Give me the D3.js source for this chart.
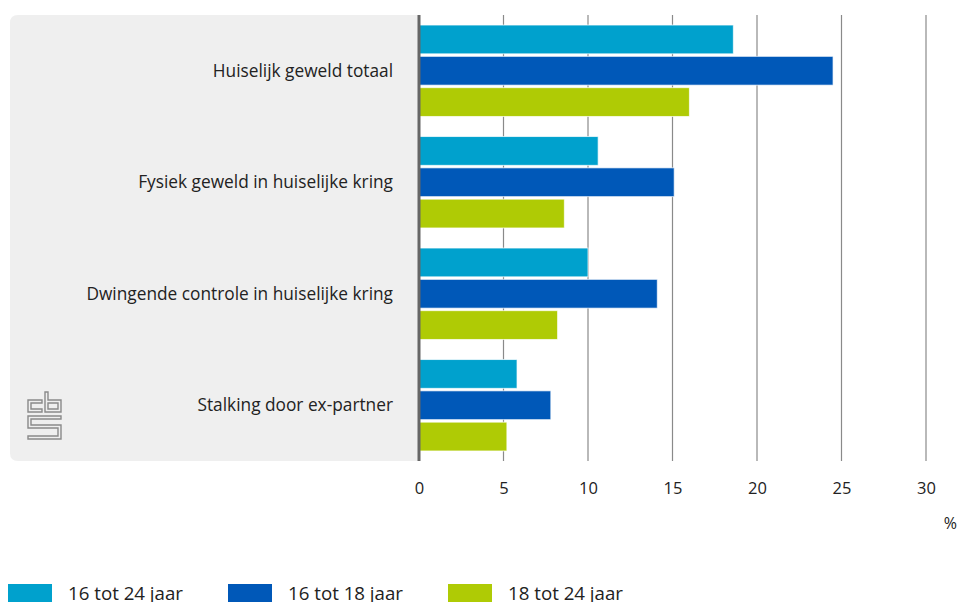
<!DOCTYPE html>
<html><head><meta charset="utf-8">
<script src="https://cdn.jsdelivr.net/npm/d3@7"></script>
<style>body{margin:0;background:#fff;}svg{display:block;font-family:"Open Sans",sans-serif;}</style>
</head><body><svg id="c" width="959" height="602"></svg>
<script>
const categories = ["Huiselijk geweld totaal","Fysiek geweld in huiselijke kring","Dwingende controle in huiselijke kring","Stalking door ex-partner"];
const seriesNames = ["16 tot 24 jaar","16 tot 18 jaar","18 tot 24 jaar"];
const values1624 = [18.6, 10.6, 10.0, 5.8];
const values1618 = [24.5, 15.1, 14.1, 7.8];
const values1824 = [16.0, 8.6, 8.2, 5.2];
const tickValues = [0,5,10,15,20,25,30];
const colors = ["#00a1cd","#0058b8","#afcb05"];

const svg = d3.select("#c");
const pLeft = 419, pRight = 926, pTop = 15, pBottom = 461;
const x = d3.scaleLinear().domain([0,30]).range([pLeft,pRight]);
const y = d3.scaleBand().domain(categories).range([pTop,pBottom]).paddingInner(0.18).paddingOuter(0.09);
const ySub = d3.scaleBand().domain(seriesNames).range([0,y.bandwidth()]).paddingInner(0.08);

// panel
svg.append("path")
  .attr("d", (()=>{const x0=10,y0=pTop,x1=pLeft,y1=pBottom,r=8;
    return `M${x0+r},${y0}H${x1}V${y1}H${x0+r}Q${x0},${y1} ${x0},${y1-r}V${y0+r}Q${x0},${y0} ${x0+r},${y0}Z`;})())
  .attr("fill","#efefef");

// gridlines
svg.append("g").selectAll("line").data(tickValues.slice(1)).join("line")
  .attr("x1",d=>x(d)).attr("x2",d=>x(d)).attr("y1",pTop).attr("y2",pBottom)
  .attr("stroke","#8a8a8a").attr("stroke-width",1.2);

const data = [values1624, values1618, values1824];
categories.forEach((c,i)=>{
  const g = svg.append("g").attr("transform",`translate(0,${y(c)})`);
  seriesNames.forEach((s,j)=>{
    g.append("rect").attr("x",x(0)).attr("y",ySub(s))
     .attr("width",x(data[j][i])-x(0)).attr("height",ySub.bandwidth())
     .attr("fill",colors[j]).attr("stroke","#ffffff").attr("stroke-width",1).attr("stroke-opacity",0.7);
  });
  svg.append("text").attr("x",393).attr("y",y(c)+y.bandwidth()/2).attr("dy","0.35em")
    .attr("text-anchor","end").attr("font-size",17.3).attr("fill","#222").text(c);
});

// axis line
svg.append("line").attr("x1",pLeft).attr("x2",pLeft).attr("y1",pTop).attr("y2",pBottom)
  .attr("stroke","#666").attr("stroke-width",3);

// x axis
const ax = d3.axisBottom(x).tickValues(tickValues).tickSize(0).tickPadding(0);
const axg = svg.append("g").attr("transform",`translate(0,${pBottom+33})`).call(ax);
axg.select(".domain").remove();
axg.selectAll("text").attr("font-size",16.5).attr("fill","#222").attr("font-family","'Open Sans',sans-serif").attr("dy","0");
svg.append("text").attr("x",957).attr("y",529).attr("text-anchor","end").attr("font-size",16).attr("fill","#222").text("%");

// logo
const lg = svg.append("g").attr("transform","translate(28,392)").attr("fill","none").attr("stroke","#8a8a8a").attr("stroke-width",1.4);
lg.append("path").attr("d","M0,8H14V11H3V17H14V20H0Z");
lg.append("path").attr("d","M17,0H20V8H33V20H17Z M20,11V17H30V11Z");
lg.append("path").attr("d","M0,24H33V27H3V33H33V47H0V44H30V36H0Z");

// legend
const legX = [8,228,448];
seriesNames.forEach((s,j)=>{
  svg.append("rect").attr("x",legX[j]).attr("y",584).attr("width",44).attr("height",18).attr("fill",colors[j]);
  svg.append("text").attr("x",legX[j]+60).attr("y",600).attr("font-size",18.7).attr("fill","#222").text(s);
});
</script></body></html>
